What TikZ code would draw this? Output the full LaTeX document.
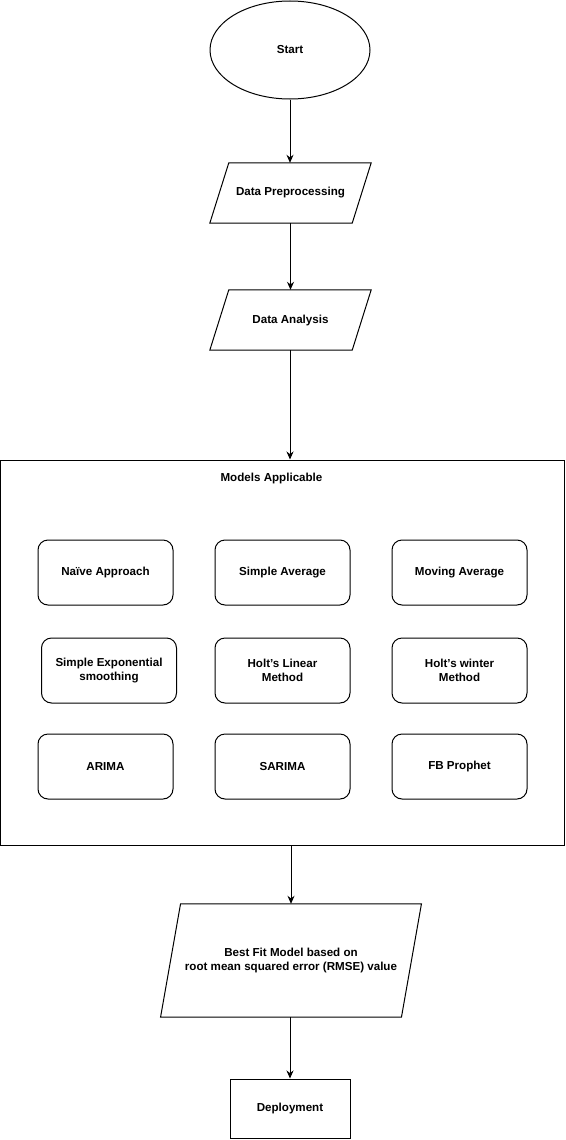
\documentclass[tikz,border=0pt]{standalone}
\usepackage{fontspec}
\setmainfont{Liberation Sans}
\usetikzlibrary{shapes.geometric,arrows.meta,calc}
\begin{document}
\begin{tikzpicture}[x=1pt,y=1pt,
  every node/.style={font=\fontsize{11.6}{14.5}\selectfont\bfseries, align=center, inner sep=0pt},
  line/.style={draw=black, line width=1pt},
  arr/.style={line, -{Stealth[length=8pt,width=7pt]}},
  rbox/.style={line, rounded corners=10pt, minimum width=135, minimum height=65},
  plainbox/.style={line, minimum width=120, minimum height=59}
]
\useasboundingbox[fill=white] (0,0) rectangle (565,-1140);

% Start
\node[line, ellipse, minimum width=160, minimum height=98] (start) at (290,-50) {Start};

% Data Preprocessing (parallelogram)
\node[minimum width=142, minimum height=60] (prep) at (290.5,-193) {Data Preprocessing};
\draw[line] ($(prep.north west)+(9.5,0)$) -- ($(prep.north east)+(9.5,0)$) -- ($(prep.south east)+(-9.5,0)$) -- ($(prep.south west)+(-9.5,0)$) -- cycle;

% Data Analysis (parallelogram)
\node[minimum width=142, minimum height=60] (analysis) at (290.5,-320) {Data Analysis};
\draw[line] ($(analysis.north west)+(9.5,0)$) -- ($(analysis.north east)+(9.5,0)$) -- ($(analysis.south east)+(-9.5,0)$) -- ($(analysis.south west)+(-9.5,0)$) -- cycle;

% Models container
\node[line, minimum width=564, minimum height=385.5] (models) at (282.5,-652.75) {};
\node (mtitle) at (271.5,-478) {Models Applicable};

\node[rbox] (naive) at (105.5,-572.5) {Na\"ive Approach};
\node[rbox] (savg) at (282.5,-572.5) {Simple Average};
\node[rbox] (mavg) at (459.5,-572.5) {Moving Average};

\node[rbox] (ses) at (109,-670.5) {Simple Exponential\\smoothing};
\node[rbox] (holtl) at (282.5,-670.5) {Holt's Linear\\Method};
\node[rbox] (holtw) at (459.5,-670.5) {Holt's winter\\Method};

\node[rbox] (arima) at (105.5,-766.5) {ARIMA};
\node[rbox] (sarima) at (282.5,-766.5) {SARIMA};
\node[rbox] (fb) at (459.5,-766.5) {FB Prophet};

% Best fit (parallelogram)
\node[minimum width=240.5, minimum height=113] (best) at (291,-960.5) {Best Fit Model based on\\root mean squared error (RMSE) value};
\draw[line] ($(best.north west)+(10,0)$) -- ($(best.north east)+(10,0)$) -- ($(best.south east)+(-10,0)$) -- ($(best.south west)+(-10,0)$) -- cycle;

% Deployment
\node[plainbox] (deploy) at (290,-1108.5) {Deployment};

% Connectors
\draw[arr] (start.south) -- (start.south |- prep.north);
\draw[arr] (prep.south) -- (analysis.north);
\draw[arr] ([xshift=-0.5pt]analysis.south) -- ([xshift=-0.5pt]analysis.south |- models.north);
\draw[arr] (best.north |- models.south) -- (best.north);
\draw[arr] (deploy.north |- best.south) -- (deploy.north);
\end{tikzpicture}
\end{document}
